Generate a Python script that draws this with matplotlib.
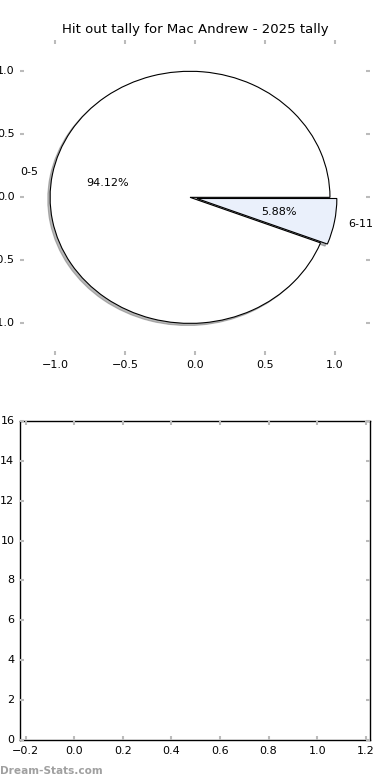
import matplotlib

matplotlib.use("Agg")
import matplotlib.pyplot as plt

plt.style.use("classic")
plt.rcParams["font.family"] = ["DejaVu Sans"]

labels = ["0-5", "6-11"]
counts = [16, 1]
colors = ["#ffffff", "#eaf0fb"]
explode = [0, 0.05]
title = "Hit out tally for Mac Andrew - 2025 tally"

fig = plt.figure(figsize=(3.9, 7.8), dpi=100, facecolor="white")

ax1 = fig.add_axes([0.0513, 0.545, 0.897, 0.404])
ax1.pie(
    counts,
    labels=labels,
    colors=colors,
    explode=explode,
    autopct="%1.2f%%",
    shadow={"ox": -0.012, "oy": -0.012, "shade": 0.55},
    center=(-0.035, 0),
    frame=True,
    wedgeprops={"linewidth": 0.8, "edgecolor": "black"},
    textprops={"fontsize": 8},
)
ax1.set_xlim(-1.25, 1.25)
ax1.set_ylim(-1.25, 1.25)
ax1.set_aspect("auto")
ax1.set_xticks([-1.0, -0.5, 0.0, 0.5, 1.0])
ax1.set_yticks([-1.0, -0.5, 0.0, 0.5, 1.0])
for s in ax1.spines.values():
    s.set_visible(False)
ax1.tick_params(labelsize=8, color="#bbbbbb", direction="in", width=1.5, length=3)
ax1.set_title(title, fontsize=9.5)

ax2 = fig.add_axes([0.0513, 0.0513, 0.897, 0.409])
ax2.set_xlim(-0.224, 1.217)
ax2.set_ylim(0, 16)
ax2.set_xticks([-0.2, 0.0, 0.2, 0.4, 0.6, 0.8, 1.0, 1.2])
ax2.set_yticks(range(0, 17, 2))
ax2.tick_params(labelsize=8, color="#bbbbbb", direction="in", width=1.5, length=3)

fig.text(0.0, 0.005, "Dream-Stats.com", fontsize=7.6, color="#a0a0a0",
         fontweight="bold", ha="left", va="bottom")

fig.savefig("out.png", dpi=100, facecolor="white")
